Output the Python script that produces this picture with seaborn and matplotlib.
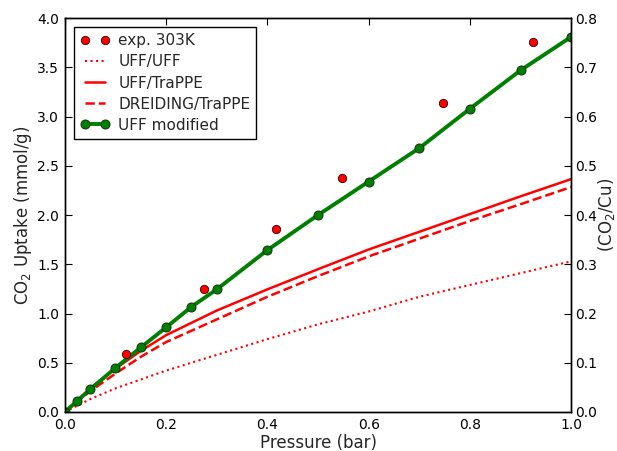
import matplotlib
matplotlib.use("Agg")
import matplotlib.pyplot as plt
import seaborn as sns
import pandas as pd

# ---- data ----
exp_p = [0.12, 0.274, 0.417, 0.548, 0.747, 0.925]
exp_u = [0.59, 1.25, 1.86, 2.38, 3.14, 3.76]

uffuff_p = [0.0, 0.05, 0.1, 0.15, 0.2, 0.3, 0.4, 0.5, 0.6, 0.7, 0.8, 0.9, 1.0]
uffuff_u = [0.0, 0.13, 0.24, 0.33, 0.42, 0.58, 0.74, 0.89, 1.02, 1.17, 1.29, 1.41, 1.53]

ufftrappe_p = [0.0, 0.05, 0.1, 0.15, 0.2, 0.3, 0.4, 0.5, 0.6, 0.7, 0.8, 0.9, 1.0]
ufftrappe_u = [0.0, 0.24, 0.44, 0.62, 0.78, 1.03, 1.245, 1.45, 1.65, 1.83, 2.01, 2.19, 2.365]

dreiding_p = [0.0, 0.05, 0.1, 0.15, 0.2, 0.3, 0.4, 0.5, 0.6, 0.7, 0.8, 0.9, 1.0]
dreiding_u = [0.0, 0.21, 0.39, 0.56, 0.71, 0.94, 1.17, 1.38, 1.58, 1.76, 1.94, 2.11, 2.285]

mod_p = [0.0, 0.025, 0.05, 0.1, 0.15, 0.2, 0.25, 0.3, 0.4, 0.5, 0.6, 0.7, 0.8, 0.9, 1.0]
mod_u = [0.0, 0.113, 0.229, 0.448, 0.655, 0.859, 1.068, 1.245, 1.644, 2.0, 2.34, 2.68, 3.08, 3.47, 3.81]

x_ticks = [0.0, 0.2, 0.4, 0.6, 0.8, 1.0]
y_ticks = [0.0, 0.5, 1.0, 1.5, 2.0, 2.5, 3.0, 3.5, 4.0]
y2_ticks = [0.0, 0.1, 0.2, 0.3, 0.4, 0.5, 0.6, 0.7, 0.8]

sns.set_style("white")
plt.rcParams['font.family'] = ['DejaVu Sans']
plt.rcParams['xtick.direction'] = 'in'
plt.rcParams['ytick.direction'] = 'in'

fig = plt.figure(figsize=(6.17, 4.51), dpi=100)
ax = fig.add_axes([0.105, 0.0865, 0.821, 0.8735])

sns.lineplot(x=uffuff_p, y=uffuff_u, ax=ax, color='red', linestyle=':', linewidth=1.5,
             label='UFF/UFF', estimator=None, sort=False)
sns.lineplot(x=ufftrappe_p, y=ufftrappe_u, ax=ax, color='red', linestyle='-', linewidth=1.8,
             label='UFF/TraPPE', estimator=None, sort=False)
sns.lineplot(x=dreiding_p, y=dreiding_u, ax=ax, color='red', linestyle='--', linewidth=1.8,
             label='DREIDING/TraPPE', estimator=None, sort=False)
sns.lineplot(x=mod_p, y=mod_u, ax=ax, color='green', linestyle='-', linewidth=2.8,
             marker='o', markersize=6.5, markerfacecolor='green', markeredgecolor='#113311',
             markeredgewidth=0.7, label='UFF modified', estimator=None, sort=False)
sns.lineplot(x=exp_p, y=exp_u, ax=ax, color='red', linestyle='', marker='o', markersize=6,
             markerfacecolor='red', markeredgecolor='#330000', markeredgewidth=0.6,
             label='exp. 303K', estimator=None, sort=False, zorder=5)

ax.set_xlim(0, 1.0)
ax.set_ylim(0, 4.0)
ax.set_xticks(x_ticks)
ax.set_yticks(y_ticks)
ax.set_xticklabels([f"{v:.1f}" for v in x_ticks], fontsize=10)
ax.set_yticklabels([f"{v:.1f}" for v in y_ticks], fontsize=10)
ax.tick_params(axis='both', direction='in', length=5, width=0.8, top=True, right=False,
               colors='black', pad=4)
ax.set_xlabel("Pressure (bar)", fontsize=12, labelpad=2)
ax.set_ylabel("CO$_2$ Uptake (mmol/g)", fontsize=12, labelpad=2)
for s in ax.spines.values():
    s.set_visible(True)
    s.set_color('black')
    s.set_linewidth(1.0)

ax2 = ax.twinx()
ax2.set_ylim(0, 0.8)
ax2.set_yticks(y2_ticks)
ax2.set_yticklabels([f"{v:.1f}" for v in y2_ticks], fontsize=10)
ax2.tick_params(axis='y', direction='in', length=5, width=0.8, pad=3, colors='black')
ax2.set_ylabel("(CO$_2$/Cu)", fontsize=12, labelpad=-1)
for s in ax2.spines.values():
    s.set_visible(True)
    s.set_color('black')
    s.set_linewidth(1.0)

handles, labels = ax.get_legend_handles_labels()
order = ['exp. 303K', 'UFF/UFF', 'UFF/TraPPE', 'DREIDING/TraPPE', 'UFF modified']
hmap = dict(zip(labels, handles))
leg = ax.legend([hmap[k] for k in order], order, loc='upper left', numpoints=2,
                fontsize=11, frameon=True, fancybox=False, framealpha=1,
                edgecolor='black', borderaxespad=0.6, handlelength=1.9,
                handletextpad=0.6, labelspacing=0.4, borderpad=0.4)
leg.get_frame().set_linewidth(1.0)

fig.savefig("out.png", dpi=100)
